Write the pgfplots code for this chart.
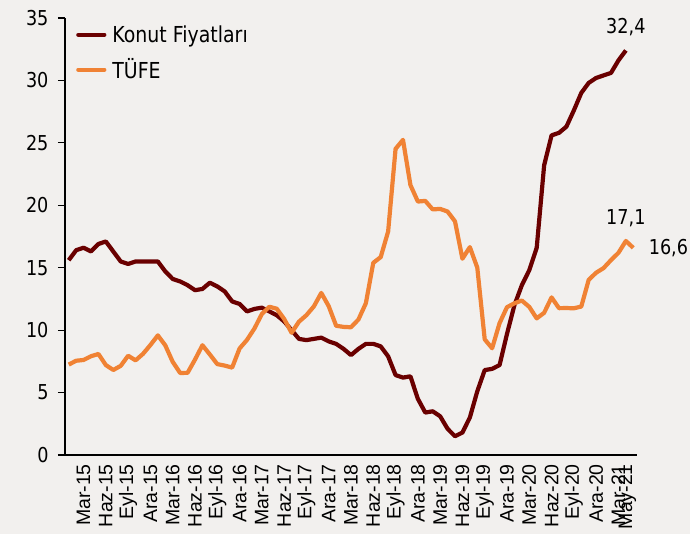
\documentclass[border=0pt]{standalone}
\usepackage{fontspec}
\usepackage{pgfplots}
\pgfplotsset{compat=1.18}
\setmainfont{DejaVu Sans}[FakeStretch=0.86]
\newfontfamily\arialf{Liberation Sans}
\definecolor{bg}{RGB}{242,240,238}
\definecolor{konut}{RGB}{106,0,0}
\definecolor{tufe}{RGB}{240,130,52}
\begin{document}
\begin{tikzpicture}
\useasboundingbox (-65pt,-79pt) rectangle (625pt,455pt);
\fill[bg] (-65pt,-79pt) rectangle (625pt,455pt);
\begin{axis}[
  scale only axis, width=572pt, height=437pt,
  at={(0pt,0pt)}, anchor=south west,
  xmin=-0.5, xmax=76.5, ymin=0, ymax=35,
  axis x line=bottom, axis y line=left,
  axis line style={-, line width=1.2pt, black},
  ytick={0,5,...,35},
  xtick={2,5,...,74,75.2},
  xticklabels={Mar-15,Haz-15,Eyl-15,Ara-15,Mar-16,Haz-16,Eyl-16,Ara-16,Mar-17,Haz-17,Eyl-17,Ara-17,Mar-18,Haz-18,Eyl-18,Ara-18,Mar-19,Haz-19,Eyl-19,Ara-19,Mar-20,Haz-20,Eyl-20,Ara-20,Mar-21,May-21},
  tick align=outside, major tick length=7pt,
  xtick style={draw=none},
  ytick style={line width=1.2pt, black},
  xticklabel style={rotate=90, anchor=east, font=\arialf\fontsize{19.5}{19.5}\selectfont, inner sep=2pt},
  yticklabel style={font=\fontsize{20.5}{20.5}\selectfont, xshift=-6pt},
  /pgf/number format/assume math mode=true,
  legend style={at={(0.014,0.992)}, anchor=north west, draw=none, fill=none, font=\fontsize{22}{22}\selectfont, row sep=11pt, nodes={inner xsep=6pt}},
  legend cell align=left,
  legend image code/.code={\draw[#1, line cap=round] (0pt,0pt) -- (26pt,0pt);},
  clip=false,
]
\addplot[konut, line width=4.2pt, line join=round] coordinates {
(0,15.6)(1,16.4)(2,16.6)(3,16.3)(4,16.9)(5,17.1)(6,16.3)(7,15.5)(8,15.3)(9,15.5)(10,15.5)(11,15.5)
(12,15.5)(13,14.7)(14,14.1)(15,13.9)(16,13.6)(17,13.2)(18,13.3)(19,13.8)(20,13.5)(21,13.1)(22,12.3)(23,12.1)
(24,11.5)(25,11.7)(26,11.8)(27,11.5)(28,11.2)(29,10.7)(30,10.0)(31,9.3)(32,9.2)(33,9.3)(34,9.4)(35,9.1)
(36,8.9)(37,8.5)(38,8.0)(39,8.5)(40,8.9)(41,8.9)(42,8.7)(43,7.9)(44,6.4)(45,6.2)(46,6.3)(47,4.5)
(48,3.4)(49,3.5)(50,3.1)(51,2.1)(52,1.5)(53,1.8)(54,3.0)(55,5.1)(56,6.8)(57,6.9)(58,7.2)(59,9.7)
(60,12.0)(61,13.6)(62,14.8)(63,16.6)(64,23.2)(65,25.6)(66,25.8)(67,26.3)(68,27.6)(69,29.0)(70,29.8)(71,30.2)
(72,30.4)(73,30.6)(74,31.6)(75,32.4)
};
\addlegendentry{Konut Fiyatları}
\addplot[tufe, line width=4.2pt, line join=round] coordinates {
(0,7.24)(1,7.55)(2,7.61)(3,7.91)(4,8.09)(5,7.20)(6,6.81)(7,7.14)(8,7.95)(9,7.58)(10,8.10)(11,8.81)
(12,9.58)(13,8.78)(14,7.46)(15,6.57)(16,6.58)(17,7.64)(18,8.79)(19,8.05)(20,7.28)(21,7.16)(22,7.00)(23,8.53)
(24,9.22)(25,10.13)(26,11.29)(27,11.87)(28,11.72)(29,10.90)(30,9.79)(31,10.68)(32,11.20)(33,11.90)(34,12.98)(35,11.92)
(36,10.35)(37,10.26)(38,10.23)(39,10.85)(40,12.15)(41,15.39)(42,15.85)(43,17.90)(44,24.52)(45,25.24)(46,21.62)(47,20.30)
(48,20.35)(49,19.67)(50,19.71)(51,19.50)(52,18.71)(53,15.72)(54,16.65)(55,15.01)(56,9.26)(57,8.55)(58,10.56)(59,11.84)
(60,12.15)(61,12.37)(62,11.86)(63,10.94)(64,11.39)(65,12.62)(66,11.76)(67,11.77)(68,11.75)(69,11.89)(70,14.03)(71,14.60)
(72,14.97)(73,15.61)(74,16.19)(75,17.14)(76,16.59)
};
\addlegendentry{TÜFE}
\node[anchor=south, font=\fontsize{20.5}{20.5}\selectfont, yshift=11pt] at (axis cs:75,32.4) {32,4};
\node[anchor=south, font=\fontsize{20.5}{20.5}\selectfont, yshift=11pt] at (axis cs:75,17.14) {17,1};
\node[anchor=west, font=\fontsize{20.5}{20.5}\selectfont, xshift=12pt] at (axis cs:76,16.59) {16,6};
\end{axis}
\end{tikzpicture}
\end{document}
